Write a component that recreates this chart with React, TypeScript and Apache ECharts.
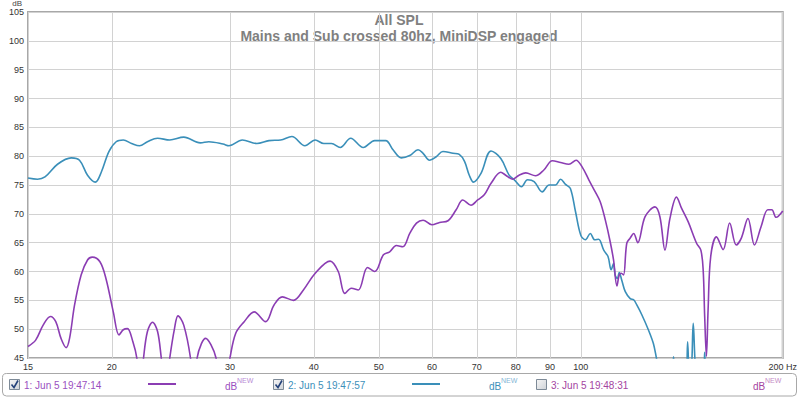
import React, { useEffect, useRef } from 'react';
import * as echarts from 'echarts';

const xTicks = [15, 20, 30, 40, 50, 60, 70, 80, 90, 100, 200];

const purpleFreq = [
  15.0, 15.4, 15.8, 16.2, 16.5, 16.8, 17.1, 17.3, 17.6, 18.0, 18.4, 18.7, 19.2, 19.6, 20.1, 20.5,
  20.8, 21.1, 21.5, 21.8, 22.05, 22.3, 22.6, 23.0, 23.4, 23.7, 24.05, 24.4, 24.8, 25.1, 25.6, 26.2,
  26.5, 26.8, 27.2, 27.6, 28.1, 28.6, 29.3, 30.0, 30.6, 31.5, 32.6, 33.9, 34.9, 35.9, 37.3, 38.6,
  40.2, 42.3, 43.5, 44.5, 45.5, 46.6, 48.1, 49.3, 50.8, 51.9, 53.1, 54.3, 55.6, 56.9, 58.2, 60.0,
  61.6, 63.4, 65.2, 66.7, 68.6, 70.2, 71.8, 73.5, 76.0, 77.3, 79.1, 80.9, 82.8, 85.6, 88.1, 90.7,
  93.3, 96.0, 98.4, 100.5, 102.8, 105.1, 106.9, 108.8, 110.6, 111.9, 113.2, 114.1, 114.9, 115.8,
  117.1, 118.5, 119.9, 121.6, 124.7, 129.0, 131.2, 133.5, 135.8, 138.9, 141.3, 144.6, 148.8, 151.0,
  152.2, 153.0, 153.9, 154.8, 156.2, 159.3, 163.0, 166.7, 170.5, 173.5, 177.5, 181.5, 185.7, 190.0,
  192.6, 195.5, 200.0,
];
const purpleDb = [
  47.0, 48.1, 50.7, 52.2, 51.3, 48.4, 46.8, 48.4, 54.2, 59.4, 62.0, 62.5, 61.7, 58.8, 53.0, 49.0,
  49.9, 50.1, 47.8, 44.9, 39.0, 45.0, 49.6, 51.2, 49.6, 45.0, 39.0, 45.0, 50.1, 52.3, 50.7, 45.0,
  39.0, 45.0, 47.5, 48.4, 47.3, 45.0, 38.0, 45.0, 49.3, 51.3, 53.0, 51.3, 54.2, 55.6, 55.0, 56.8,
  59.7, 61.8, 60.0, 56.2, 57.1, 56.8, 60.7, 60.0, 62.9, 63.4, 64.5, 64.3, 66.6, 68.4, 68.9, 68.1,
  68.5, 68.8, 70.7, 72.4, 71.5, 72.4, 73.3, 75.3, 77.2, 76.7, 76.0, 76.7, 77.1, 76.6, 77.6, 79.2,
  78.9, 78.6, 79.3, 78.1, 75.9, 73.8, 72.1, 68.9, 65.2, 62.0, 57.5, 59.4, 59.7, 59.4,
  64.9, 65.8, 66.6, 65.0, 69.5, 71.2, 69.5, 63.7, 69.2, 72.9, 71.0, 68.6, 64.9, 63.7,
  60.3, 52.2, 45.3, 53.4, 62.6, 66.0, 63.8, 68.4, 64.6, 65.8, 69.2, 64.6, 67.8, 70.7,
  70.7, 69.4, 70.5,
];

const tealFreq = [
  15.0, 15.5, 15.9, 16.6, 17.4, 17.9, 18.4, 18.9, 19.3, 19.8, 20.3, 20.8, 21.4, 22.0, 22.6, 23.4,
  24.4, 25.6, 27.1, 27.9, 29.3, 29.9, 31.3, 32.9, 34.3, 35.7, 37.1, 38.8, 40.2, 41.4, 42.5, 43.8,
  45.4, 47.4, 49.3, 51.2, 52.5, 54.0, 55.6, 57.2, 58.2, 59.5, 60.9, 62.3, 64.5, 65.9, 67.1, 68.2,
  69.2, 71.0, 73.5, 76.0, 78.2, 79.6, 81.6, 83.3, 85.2, 87.6, 89.7, 91.7, 93.3, 94.9, 96.5, 98.2,
  100.0, 101.6, 103.3, 104.9, 106.3, 108.2, 109.8, 111.0, 111.9, 112.5, 113.4, 114.1, 115.1, 116.5,
  118.5, 119.9, 121.2, 123.3, 126.1, 128.3, 129.8, 132.0, 136.0, 137.5, 138.5, 143.3, 144.3, 145.2,
  146.2, 147.1, 148.3, 150.0, 152.5, 153.0, 153.6, 160.0, 200.0,
];
const tealDb = [
  76.2, 76.0, 76.4, 78.6, 79.7, 79.3, 76.7, 75.5, 77.3, 80.8, 82.5, 82.8, 82.2, 81.8, 82.5, 83.1,
  82.8, 83.3, 82.3, 82.5, 82.1, 81.8, 82.8, 82.2, 82.7, 82.8, 83.4, 81.8, 82.8, 82.2, 82.2, 81.5,
  83.1, 81.5, 82.7, 82.7, 81.1, 79.7, 80.1, 81.1, 80.5, 79.3, 79.9, 80.8, 80.5, 80.3, 79.1, 76.7,
  75.5, 77.0, 80.9, 79.6, 76.7, 75.9, 74.7, 75.9, 75.6, 73.8, 75.0, 75.0, 76.0, 75.1, 74.4, 70.4,
  66.3, 65.5, 66.6, 65.5, 65.6, 63.7, 62.6, 60.3, 61.4, 59.4, 58.8, 59.8, 58.5, 56.5,
  55.3, 55.1, 54.2, 52.5, 49.9, 47.5, 44.7, 41.0, 40.0, 45.2, 41.0, 41.0, 47.8, 42.0,
  43.0, 51.0, 43.0, 40.0, 42.0, 46.0, 41.0, 36.0, 30.0,
];

const legendLabels = ['1: Jun 5 19:47:14', '2: Jun 5 19:47:57', '3: Jun 5 19:48:31'];
const legendChecked = [true, true, false];
const legendColors = ['#9a4fbf', '#3d8fba', '#a4449f'];
const superColors = ['#b98ad6', '#86b6d6', '#c58ac6'];

const PURPLE = '#8b3db3';
const TEAL = '#3a8fb9';
const FONT = '"Liberation Sans", Arial, sans-serif';

// legend layout (pixel positions)
const legendBoxX = [9, 273, 536];
const legendLineX = [148, 412, -1];
const legendDbX = [225, 489, 753];
const legendLineColors = [PURPLE, TEAL, ''];

export default function App() {
  const ref = useRef<HTMLDivElement>(null);
  useEffect(() => {
    if (!ref.current) return;
    const chart = echarts.init(ref.current, undefined, { renderer: 'svg' });
    const pData = purpleFreq.map((f, i) => [f, purpleDb[i]]);
    const tData = tealFreq.map((f, i) => [f, tealDb[i]]);

    const graphics: any[] = [
      { type: 'text', x: 399, y: 20, style: { text: 'All SPL', fontSize: 14, fontWeight: 'bold', fill: '#808080', align: 'center', verticalAlign: 'middle', fontFamily: FONT } },
      { type: 'text', x: 399, y: 36, style: { text: 'Mains and Sub crossed 80hz, MiniDSP engaged', fontSize: 14, fontWeight: 'bold', fill: '#808080', align: 'center', verticalAlign: 'middle', fontFamily: FONT } },
      { type: 'text', x: 22, y: -1, style: { text: 'dB', fontSize: 8, fill: '#444', align: 'right', verticalAlign: 'top', fontFamily: FONT } },
      { type: 'rect', shape: { x: 2.5, y: 373.5, width: 794, height: 22.5, r: 4 }, style: { fill: '#fff', stroke: '#a8a8a8', lineWidth: 1 } },
    ];
    legendLabels.forEach((label, i) => {
      const bx = legendBoxX[i];
      graphics.push({
        type: 'rect', shape: { x: bx + 0.5, y: 379.5, width: 10, height: 10 },
        style: {
          fill: new echarts.graphic.LinearGradient(0, 0, 1, 1, [
            { offset: 0, color: '#f6f6f6' }, { offset: 1, color: '#cfd3d8' },
          ]),
          stroke: '#7d8a97', lineWidth: 1,
        },
      });
      if (legendChecked[i]) {
        graphics.push({
          type: 'polyline', shape: { points: [[bx + 2.5, 384.5], [bx + 5, 387.5], [bx + 9, 380.5]] },
          style: { stroke: '#24427a', lineWidth: 1.6, fill: 'none' },
        });
      }
      graphics.push({
        type: 'text', x: bx + 15, y: 385, style: { text: label, fontSize: 10, fill: legendColors[i], verticalAlign: 'middle', fontFamily: FONT },
      });
      if (legendLineX[i] > 0) {
        graphics.push({
          type: 'line', shape: { x1: legendLineX[i], y1: 384, x2: legendLineX[i] + 28, y2: 384 }, style: { stroke: legendLineColors[i], lineWidth: 2 },
        });
      }
      graphics.push({
        type: 'text', x: legendDbX[i], y: 386, style: { text: 'dB', fontSize: 10, fill: legendColors[i], verticalAlign: 'middle', fontFamily: FONT },
      });
      graphics.push({
        type: 'text', x: legendDbX[i] + 12, y: 380.5, style: { text: 'NEW', fontSize: 7, fill: superColors[i], verticalAlign: 'middle', fontFamily: FONT },
      });
    });

    chart.setOption({
      animation: false,
      backgroundColor: '#ffffff',
      grid: { left: 28, right: 13, top: 12, bottom: 40, show: true, borderColor: '#a8a8a8', borderWidth: 2, backgroundColor: 'transparent' },
      xAxis: {
        type: 'log', logBase: 10, min: 15, max: 200,
        axisLine: { show: false },
        axisTick: { show: false, customValues: xTicks },
        axisLabel: {
          customValues: xTicks, fontSize: 9, color: '#333', margin: 4, fontFamily: FONT,
          formatter: (v: number) => { const r = Math.round(v); return r === 200 ? '200 Hz' : String(r); },
        },
        splitLine: { show: true, lineStyle: { color: '#d2d2d2', width: 1 } },
        minorSplitLine: { show: false },
      },
      yAxis: {
        type: 'value', min: 45, max: 105, interval: 5,
        axisLine: { show: false }, axisTick: { show: false },
        axisLabel: { fontSize: 9, color: '#333', margin: 4, fontFamily: FONT },
        splitLine: { show: true, lineStyle: { color: '#d2d2d2', width: 1 } },
      },
      series: [
        { type: 'line', data: pData, showSymbol: false, smooth: 0.35, clip: true, lineStyle: { color: PURPLE, width: 1.6 }, itemStyle: { color: PURPLE }, z: 3 },
        { type: 'line', data: tData, showSymbol: false, smooth: 0.35, clip: true, lineStyle: { color: TEAL, width: 1.6 }, itemStyle: { color: TEAL }, z: 2 },
      ],
      graphic: graphics,
    });
    return () => chart.dispose();
  }, []);
  return <div ref={ref} style={{ position: 'fixed', left: 0, top: 0, width: 800, height: 398 }} />;
}
